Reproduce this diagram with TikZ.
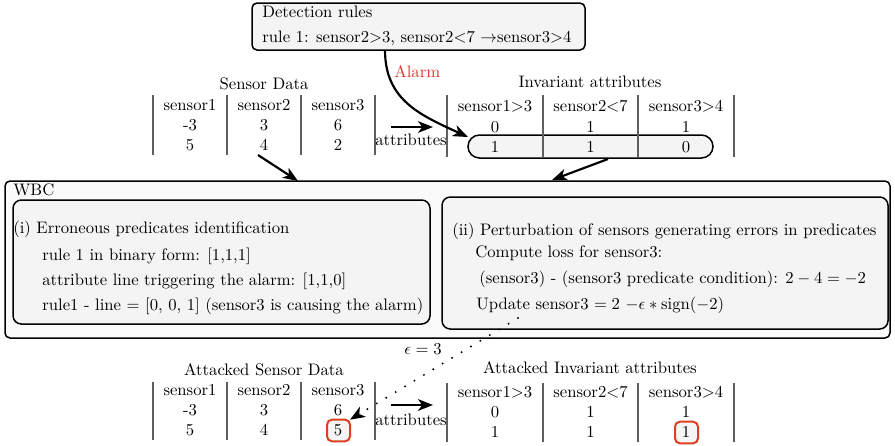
\documentclass[tikz,border=0pt]{standalone}
\usetikzlibrary{arrows.meta}
\definecolor{alarmred}{RGB}{222,52,44}
\definecolor{markred}{RGB}{221,64,32}
\definecolor{rulegray}{RGB}{95,95,95}
\definecolor{panelfill}{RGB}{244,244,244}
\definecolor{outerfill}{RGB}{250,250,250}
\begin{document}
\begin{tikzpicture}[x=0.6pt,y=-0.6pt,
  box/.style={draw=black, line width=0.9pt, inner sep=0pt, outer sep=0pt},
  txt/.style={inner sep=0pt, anchor=base west},
  cell/.style={inner sep=0pt, anchor=base},
  tabrule/.style={draw=rulegray, line width=0.7pt},
  conn/.style={line width=1.3pt, -{Stealth[length=9pt,width=7pt,inset=2.5pt]}},
  redmark/.style={draw=markred, line width=1.2pt, rounded corners=3pt, fill=black!4,
    inner sep=0pt, outer sep=0pt, minimum width=13.8pt, minimum height=13pt}]
\useasboundingbox (0,0) rectangle (895,445);

% ---------- detection rules ----------
\node[box, fill=panelfill, rounded corners=3pt, minimum width=199.8pt, minimum height=28.2pt]
  (rules) at (418.5,26.5) {};
\node[txt] (rulestitle) at (262,17) {Detection rules};
\node[txt] (rule1) at (262,42) {rule 1: sensor2>3, sensor2<7 $\rightarrow$sensor3>4};

% ---------- sensor data ----------
\node[cell] (sdtitle) at (264,89) {Sensor Data};
\foreach \x in {153,227,301,375} \draw[tabrule] (\x,95) -- (\x,155);
\foreach \x/\h/\a/\b [count=\i] in {190/sensor1/-3/5, 264/sensor2/3/4, 338/sensor3/6/2} {
  \node[cell] (sdh\i) at (\x,110) {\h};
  \node[cell] (sda\i) at (\x,130) {\a};
  \node[cell] (sdb\i) at (\x,150) {\b};
}
\node[cell] (attr1) at (411,145) {attributes};

% ---------- invariant attributes ----------
\node[box, fill=panelfill, rounded corners=6.9pt, minimum width=147pt, minimum height=13.8pt]
  (pill) at (590.5,146.5) {};
\node[cell] (iatitle) at (590,87) {Invariant attributes};
\foreach \x in {447,543,638,734} \draw[tabrule] (\x,95) -- (\x,157);
\foreach \x/\h/\a/\b [count=\i] in {495/sensor1>3/0/1, 590.5/sensor2<7/1/1, 686/sensor3>4/1/0} {
  \node[cell] (iah\i) at (\x,111) {\h};
  \node[cell] (iaa\i) at (\x,132) {\a};
  \node[cell] (iab\i) at (\x,152) {\b};
}

% ---------- WBC ----------
\node[box, fill=outerfill, rounded corners=3pt, minimum width=531pt, minimum height=94.2pt]
  (wbc) at (447.5,259.5) {};
\node[txt] (wbctitle) at (13,195) {WBC};

\node[box, fill=panelfill, rounded corners=5pt, minimum width=250.2pt, minimum height=74.4pt]
  (stepi) at (221.5,262) {};
\node[txt] (i0) at (13,233) {(i) Erroneous predicates identification};
\node[txt] (i1) at (42,260) {rule 1 in binary form: [1,1,1]};
\node[txt] (i2) at (42,285) {attribute line triggering the alarm: [1,1,0]};
\node[txt] (i3) at (42,310) {rule1 - line = [0, 0, 1] (sensor3 is causing the alarm)};

\node[box, fill=panelfill, rounded corners=5pt, minimum width=267.6pt, minimum height=79.2pt]
  (stepii) at (665,263) {};
\node[txt] (ii0) at (452,235) {(ii) Perturbation of sensors generating errors in predicates};
\node[txt] (ii1) at (475,257) {Compute loss for sensor3:};
\node[txt] (ii2) at (479,283) {(sensor3) - (sensor3 predicate condition): $2-4=-2$};
\node[txt] (ii3) at (476,309) {Update sensor3 $= 2$ $-\epsilon * \mathrm{sign}(-2)$};

% ---------- attacked sensor data ----------
\node[redmark] (m5) at (338.5,430.5) {};
\node[cell] (asdtitle) at (264,375) {Attacked Sensor Data};
\foreach \x in {153,227,301,375} \draw[tabrule] (\x,382) -- (\x,440);
\foreach \x/\h/\a/\b [count=\i] in {190/sensor1/-3/5, 264/sensor2/3/4, 338/sensor3/6/5} {
  \node[cell] (asdh\i) at (\x,395) {\h};
  \node[cell] (asda\i) at (\x,415) {\a};
  \node[cell] (asdb\i) at (\x,435) {\b};
}
\node[cell] (attr2) at (411,425) {attributes};

% ---------- attacked invariant attributes ----------
\node[redmark] (m1) at (686.5,432.5) {};
\node[cell] (aiatitle) at (590,373) {Attacked Invariant attributes};
\foreach \x in {447,543,638,734} \draw[tabrule] (\x,383) -- (\x,442);
\foreach \x/\h/\a/\b [count=\i] in {495/sensor1>3/0/1, 590.5/sensor2<7/1/1, 686/sensor3>4/1/1} {
  \node[cell] (aiah\i) at (\x,397) {\h};
  \node[cell] (aiaa\i) at (\x,417) {\a};
  \node[cell] (aiab\i) at (\x,437) {\b};
}

% ---------- connectors ----------
\coordinate (alarmstart) at (385,50);
\coordinate (alarmend) at (468,137);
\draw[conn] (alarmstart) .. controls (385,100) and (420,115) .. (alarmend);
\node[txt, text=alarmred] (alarm) at (394,77) {Alarm};

\coordinate (a1s) at (391,127);
\coordinate (a1e) at (433,127);
\draw[conn] (a1s) -- (a1e);
\coordinate (a2s) at (391,405);
\coordinate (a2e) at (433,405);
\draw[conn] (a2s) -- (a2e);

\coordinate (sds) at (258,155);
\coordinate (sde) at (298,181);
\draw[conn] (sds) -- (sde);
\coordinate (ias) at (608,159);
\coordinate (iae) at (552,180);
\draw[conn] (ias) -- (iae);

\coordinate (upd) at (518,318);
\draw[line width=1.3pt, line cap=round, dash pattern=on 0pt off 6.6pt,
  -{Stealth[length=9pt,width=7pt,inset=2.5pt]}] (upd) -- (m5.north east);
\node[cell] (eps) at (423,354) {$\epsilon = 3$};
\end{tikzpicture}
\end{document}
